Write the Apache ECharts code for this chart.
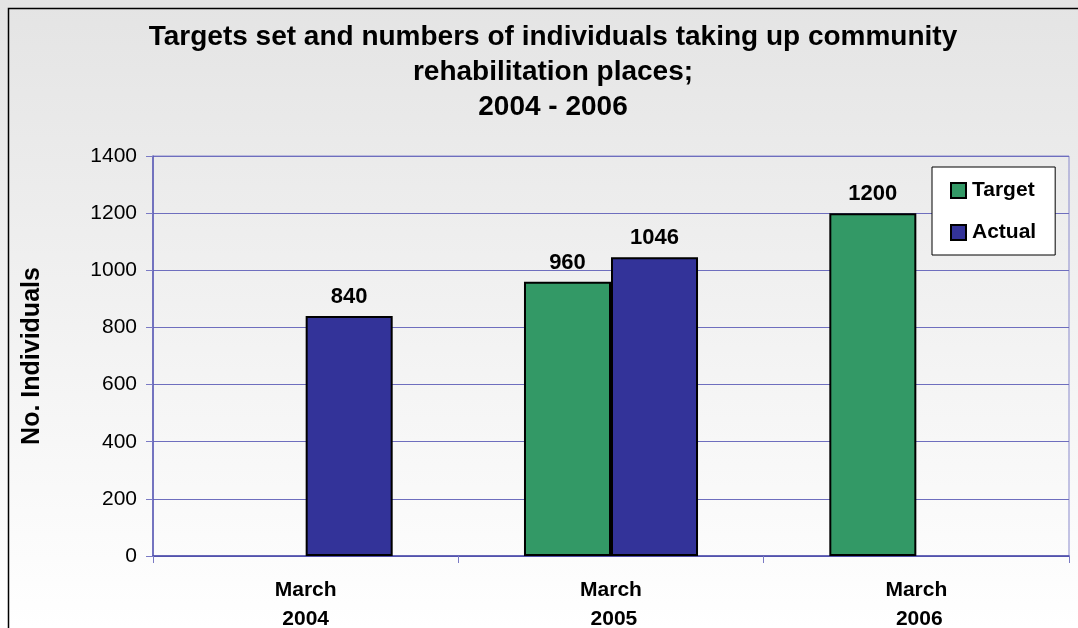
<!DOCTYPE html>
<html>
<head>
<meta charset="utf-8">
<script src="https://cdn.jsdelivr.net/npm/echarts@6/dist/echarts.min.js"></script>
<style>
  html, body { margin: 0; padding: 0; }
  #chart { width: 1078px; height: 628px; }
</style>
</head>
<body>
<div id="chart"></div>
<script>
// Category labels and the two series (null = no bar for that year)
const categories = ['March\n2004', 'March\n 2005', 'March\n 2006'];
const targetValues = [null, 960, 1200];
const actualValues = [840, 1046, null];
const yTicks = { min: 0, max: 1400, interval: 200 };

const FONT = 'Liberation Sans, Arial, sans-serif';
const chart = echarts.init(document.getElementById('chart'));

const barLabel = {
  show: true,
  position: 'top',
  distance: 8,
  fontFamily: FONT,
  fontWeight: 'bold',
  fontSize: 22,
  color: '#000'
};

chart.setOption({
  backgroundColor: new echarts.graphic.LinearGradient(0, 0, 0, 1, [
    { offset: 0, color: '#e4e4e4' },
    { offset: 1, color: '#ffffff' }
  ]),
  animation: false,
  title: {
    text: 'Targets set and numbers of individuals taking up community\nrehabilitation places;\n2004 - 2006',
    left: 548,
    textAlign: 'center',
    top: 15,
    textStyle: {
      fontFamily: FONT,
      fontWeight: 'bold',
      fontSize: 28,
      lineHeight: 35,
      color: '#000'
    }
  },
  legend: {
    orient: 'vertical',
    left: 932,
    top: 167,
    padding: [13, 19, 12, 18],
    itemGap: 21,
    itemWidth: 15,
    itemHeight: 15,
    icon: 'rect',
    backgroundColor: '#ffffff',
    borderColor: '#000',
    borderWidth: 1,
    textStyle: {
      fontFamily: FONT,
      fontWeight: 'bold',
      fontSize: 21,
      color: '#000',
      padding: [0, 0, 0, 1]
    },
    data: ['Target', 'Actual']
  },
  grid: {
    left: 153,
    top: 156,
    right: 9,
    bottom: 72,
    outerBoundsMode: 'none',
    containLabel: false,
    show: true,
    borderColor: '#8a8acc',
    borderWidth: 1,
    backgroundColor: 'transparent'
  },
  xAxis: {
    type: 'category',
    data: categories,
    axisLine: { lineStyle: { color: '#4a4aa8', width: 1.5 } },
    axisTick: { show: true, length: 7, lineStyle: { color: '#7a7ac4' } },
    axisLabel: {
      fontFamily: FONT,
      fontWeight: 'bold',
      fontSize: 21,
      lineHeight: 29,
      color: '#000',
      margin: 20
    }
  },
  yAxis: {
    type: 'value',
    min: yTicks.min,
    max: yTicks.max,
    interval: yTicks.interval,
    name: 'No. Individuals',
    nameLocation: 'middle',
    nameGap: 108,
    nameTextStyle: {
      fontFamily: FONT,
      fontWeight: 'bold',
      fontSize: 25,
      color: '#000'
    },
    axisLine: { show: true, lineStyle: { color: '#5a5ab4', width: 1.5 } },
    axisTick: { show: true, length: 7, lineStyle: { color: '#7a7ac4' } },
    axisLabel: {
      fontFamily: FONT,
      fontSize: 21,
      color: '#000',
      margin: 16,
      formatter: (v) => String(v)
    },
    splitLine: { lineStyle: { color: '#6e6ebe', width: 1 } }
  },
  series: [
    {
      name: 'Target',
      type: 'bar',
      data: targetValues,
      barGap: 0,
      barCategoryGap: '43%',
      itemStyle: { color: '#339966', borderColor: '#000', borderWidth: 2 },
      label: barLabel
    },
    {
      name: 'Actual',
      type: 'bar',
      data: actualValues,
      barGap: 0,
      barCategoryGap: '43%',
      itemStyle: { color: '#333399', borderColor: '#000', borderWidth: 2 },
      label: barLabel
    }
  ],
  graphic: [
    {
      type: 'rect',
      silent: true,
      shape: { x: 8.5, y: 8.5, width: 1200, height: 800 },
      style: { fill: 'none', stroke: '#000', lineWidth: 1.5 }
    }
  ]
});
</script>
</body>
</html>
